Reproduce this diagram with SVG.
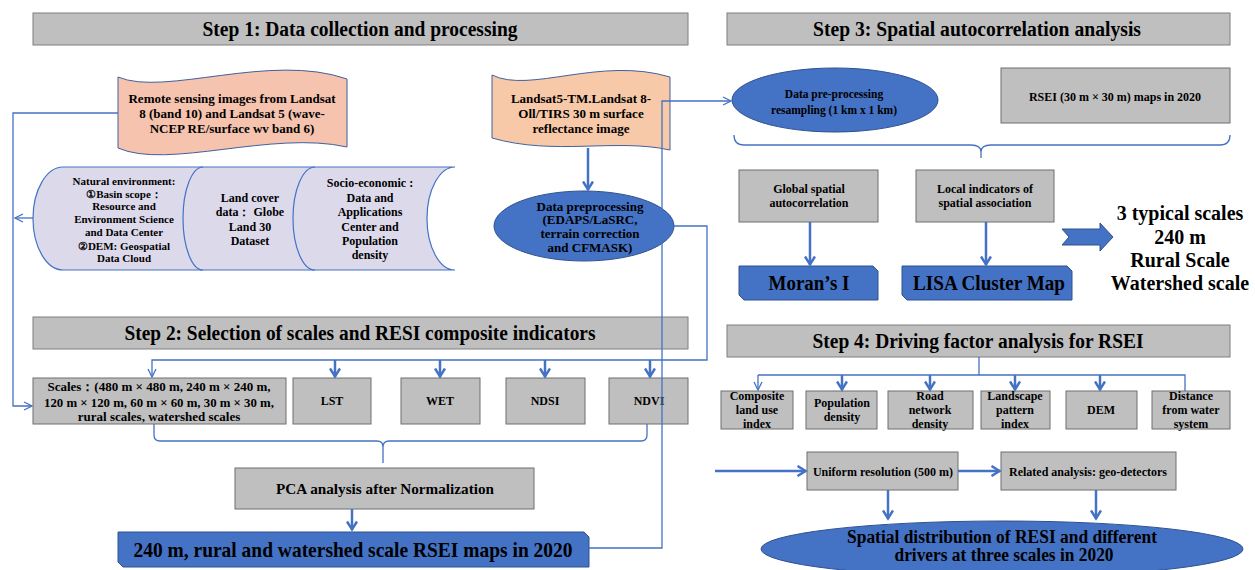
<svg xmlns="http://www.w3.org/2000/svg" width="1255" height="570" viewBox="0 0 1255 570">
<style>
.hdr{fill:#BFBFBF;stroke:#7F7F7F;stroke-width:1}
.box{fill:#BFBFBF;stroke:#6F6F6F;stroke-width:1}
.blue{fill:#4472C4;stroke:#2F528F;stroke-width:1}
.t{font-family:"Liberation Serif","Times New Roman",serif;font-weight:bold;fill:#000;text-anchor:middle}
.h{font-size:20px}
.s11{font-size:11px}
.s12{font-size:12px}
.s13{font-size:13px}
.c{fill:none;stroke:#4472C4;stroke-width:1.3}
.k{fill:none;stroke:#4472C4;stroke-width:2.5}
</style>
<defs>
<marker id="ah" viewBox="0 0 10 10" refX="9" refY="5" markerWidth="10" markerHeight="10" orient="auto" markerUnits="userSpaceOnUse"><path d="M1,1 L9,5 L1,9" fill="none" stroke="#4472C4" stroke-width="1.3"/></marker>
<marker id="ahb" viewBox="0 0 12 12" refX="10.5" refY="6" markerWidth="12" markerHeight="12" orient="auto" markerUnits="userSpaceOnUse"><path d="M2,1 L10,6 L2,11" fill="none" stroke="#4472C4" stroke-width="2.5"/></marker>
</defs>

<g id="step1-header"><rect class="hdr" x="33" y="13" width="655" height="32"/><text class="t h" x="360" y="36" textLength="315" lengthAdjust="spacingAndGlyphs">Step 1: Data collection and processing</text></g>
<g id="step3-header"><rect class="hdr" x="727" y="13" width="503" height="32"/><text class="t h" x="977" y="36" textLength="328" lengthAdjust="spacingAndGlyphs">Step 3: Spatial autocorrelation analysis</text></g>
<g id="step2-header"><rect class="hdr" x="33" y="317" width="655" height="32"/><text class="t h" x="360" y="340" textLength="471" lengthAdjust="spacingAndGlyphs">Step 2: Selection of scales and RESI composite indicators</text></g>
<g id="step4-header"><rect class="hdr" x="727" y="325" width="503" height="32"/><text class="t h" x="978" y="348" textLength="331" lengthAdjust="spacingAndGlyphs">Step 4: Driving factor analysis for RSEI</text></g>

<g id="remote-sensing">
<path d="M118,77 C165,97 270,52 347,79 L347,147 C272,130 168,170 118,148 Z" fill="#F5C3AE" stroke="#41609E" stroke-width="1"/>
<text class="t s13" x="232" y="102.5">Remote sensing images from Landsat</text>
<text class="t s13" x="232" y="117.5">8 (band 10) and Landsat 5 (wave-</text>
<text class="t s13" x="232" y="132.5">NCEP RE/surface wv band 6)</text>
</g>

<g id="landsat5">
<path d="M492,75 C530,94 600,56 670,77 L670,150 C615,138 555,156 492,138 Z" fill="#F8C9A8" stroke="#41609E" stroke-width="1"/>
<text class="t s13" x="581" y="103">Landsat5-TM.Landsat 8-</text>
<text class="t s13" x="581" y="117.5">Oll/TIRS 30 m surface</text>
<text class="t s13" x="581" y="132.5">reflectance image</text>
</g>

<g id="data-preprocessing">
<ellipse class="blue" cx="584" cy="226" rx="90" ry="35"/>
<text class="t s13" x="590" y="211">Data preprocessing</text>
<text class="t s13" x="590" y="224">(EDAPS/LaSRC,</text>
<text class="t s13" x="590" y="238">terrain correction</text>
<text class="t s13" x="590" y="252">and CFMASK)</text>
</g>

<g id="data-sources">
<path d="M63,167 L455,167 A28,51.5 0 0 0 455,270 L63,270 A30,51.5 0 0 1 63,167 Z" fill="#DCD9EB" stroke="#4472C4" stroke-width="1.2"/>
<path d="M203,167 A20,51.5 0 0 0 203,270 M315,167 A22,51.5 0 0 0 315,270" fill="none" stroke="#4472C4" stroke-width="1.2"/>
<text class="t s11" x="124" y="185">Natural environment:</text>
<text class="t s11" x="124" y="198">①Basin scope：</text>
<text class="t s11" x="124" y="210">Resource and</text>
<text class="t s11" x="124" y="223">Environment Science</text>
<text class="t s11" x="124" y="236">and Data Center</text>
<text class="t s11" x="124" y="250">②DEM: Geospatial</text>
<text class="t s11" x="124" y="262">Data Cloud</text>
<text class="t s12" x="250" y="202">Land cover</text>
<text class="t s12" x="250" y="216">data： Globe</text>
<text class="t s12" x="250" y="231">Land 30</text>
<text class="t s12" x="250" y="245">Dataset</text>
<text class="t s12" x="370" y="187">Socio-economic :</text>
<text class="t s12" x="370" y="202">Data and</text>
<text class="t s12" x="370" y="216">Applications</text>
<text class="t s12" x="370" y="231">Center and</text>
<text class="t s12" x="370" y="245">Population</text>
<text class="t s12" x="370" y="259">density</text>
</g>

<g id="resample">
<ellipse class="blue" cx="835" cy="100" rx="103" ry="32"/>
<text class="t" font-size="11.5" x="834" y="98">Data pre-processing</text>
<text class="t" font-size="11.5" x="834" y="114">resampling (1 km x 1 km)</text>
</g>
<g id="rsei30"><rect class="box" x="1001" y="68" width="229" height="55"/><text class="t s12" x="1115" y="101">RSEI (30 m × 30 m) maps in 2020</text></g>

<g id="global"><rect class="box" x="739" y="170" width="139" height="52"/><text class="t s12" x="809" y="193">Global spatial</text><text class="t s12" x="809" y="207">autocorrelation</text></g>
<g id="local"><rect class="box" x="916" y="170" width="138" height="52"/><text class="t s12" x="985" y="193">Local indicators of</text><text class="t s12" x="985" y="207">spatial association</text></g>
<g id="moran"><path class="blue" d="M739,266 L873,266 L878,271 L878,300 L744,300 L739,295 Z"/><text class="t h" x="809" y="290" textLength="81" lengthAdjust="spacingAndGlyphs">Moran’s I</text></g>
<g id="lisa"><path class="blue" d="M902,266 L1067,266 L1072,271 L1072,300 L907,300 L902,295 Z"/><text class="t h" x="989" y="290" textLength="152" lengthAdjust="spacingAndGlyphs">LISA Cluster Map</text></g>
<g id="big-arrow"><path class="blue" d="M1062,229 L1100,229 L1100,223 L1113,237 L1100,251 L1100,245 L1062,245 L1069,237 Z"/></g>
<g id="typical-scales">
<text class="t h" x="1180" y="220">3 typical scales</text>
<text class="t h" x="1180" y="244">240 m</text>
<text class="t h" x="1180" y="267">Rural Scale</text>
<text class="t h" x="1180" y="290">Watershed scale</text>
</g>

<g id="scales"><rect class="box" x="33" y="378" width="253" height="46"/>
<text class="t s13" x="159" y="391">Scales：(480 m × 480 m, 240 m × 240 m,</text>
<text class="t s13" x="159" y="407" textLength="230" lengthAdjust="spacingAndGlyphs">120 m × 120 m, 60 m × 60 m, 30 m × 30 m,</text>
<text class="t s13" x="159" y="421">rural scales, watershed scales</text></g>
<g id="lst"><rect class="box" x="293" y="378" width="78" height="46"/><text class="t s12" x="332" y="405">LST</text></g>
<g id="wet"><rect class="box" x="401" y="378" width="79" height="46"/><text class="t s12" x="440" y="405">WET</text></g>
<g id="ndsi"><rect class="box" x="506" y="378" width="79" height="46"/><text class="t s12" x="545" y="405">NDSI</text></g>
<g id="ndvi"><rect class="box" x="609" y="378" width="79" height="46"/><text class="t s12" x="649" y="405">NDVI</text></g>

<g id="pca"><rect class="box" x="235" y="468" width="299" height="41"/><text class="t" x="385" y="494" font-size="15" textLength="218" lengthAdjust="spacingAndGlyphs">PCA analysis after Normalization</text></g>
<g id="rsei-maps"><path class="blue" d="M118,532 L584,532 L589,537 L589,567 L123,567 L118,562 Z"/><text class="t" x="353" y="557" font-size="22" textLength="439" lengthAdjust="spacingAndGlyphs">240 m, rural and watershed scale RSEI maps in 2020</text></g>

<g id="composite"><rect class="box" x="721" y="391" width="72" height="38"/><text class="t s12" x="757" y="400">Composite</text><text class="t s12" x="757" y="414">land use</text><text class="t s12" x="757" y="428">index</text></g>
<g id="population"><rect class="box" x="806" y="391" width="71" height="38"/><text class="t s12" x="842" y="407">Population</text><text class="t s12" x="842" y="421">density</text></g>
<g id="road"><rect class="box" x="888" y="391" width="85" height="38"/><text class="t s12" x="930" y="400">Road</text><text class="t s12" x="930" y="414">network</text><text class="t s12" x="930" y="428">density</text></g>
<g id="landscape"><rect class="box" x="981" y="391" width="69" height="38"/><text class="t s12" x="1015" y="400">Landscape</text><text class="t s12" x="1015" y="414">pattern</text><text class="t s12" x="1015" y="428">index</text></g>
<g id="dem"><rect class="box" x="1066" y="391" width="71" height="38"/><text class="t s12" x="1101" y="414">DEM</text></g>
<g id="distance"><rect class="box" x="1152" y="391" width="78" height="38"/><text class="t s12" x="1191" y="400">Distance</text><text class="t s12" x="1191" y="414">from water</text><text class="t s12" x="1191" y="428">system</text></g>

<g id="uniform"><rect class="box" x="807" y="452" width="151" height="38"/><text class="t s12" x="883" y="476">Uniform resolution (500 m)</text></g>
<g id="related"><rect class="box" x="1001" y="452" width="175" height="38"/><text class="t s12" x="1088" y="476">Related analysis: geo-detectors</text></g>
<g id="spatial-distribution"><ellipse class="blue" cx="1002" cy="549" rx="241" ry="28"/>
<text class="t" x="1002" y="543" font-size="18" textLength="310" lengthAdjust="spacingAndGlyphs">Spatial distribution of RESI and different</text>
<text class="t" x="1004" y="561" font-size="18" textLength="219" lengthAdjust="spacingAndGlyphs">drivers at three scales in 2020</text></g>

<g id="connectors">
<path class="c" d="M118,113 L13,113 L13,406 L32,406" marker-end="url(#ah)"/>
<path class="c" d="M33,218 L15,218" marker-end="url(#ah)"/>
<path class="k" d="M588,148 L588,190" marker-end="url(#ahb)"/>
<path class="c" d="M674,226 L707,226 L707,360 L152,360 L152,377" marker-end="url(#ah)"/>
<path class="k" d="M335,360 L335,377" marker-end="url(#ahb)"/>
<path class="k" d="M440,360 L440,377" marker-end="url(#ahb)"/>
<path class="k" d="M545,360 L545,377" marker-end="url(#ahb)"/>
<path class="k" d="M650,360 L650,377" marker-end="url(#ahb)"/>
<path class="c" d="M154,424 L154,435 Q154,441 160,441 L377,441 Q383,441 383,447 L383,463 M383,447 Q383,441 389,441 L641,441 Q647,441 647,435 L647,424"/>
<path class="k" d="M352,509 L352,530" marker-end="url(#ahb)"/>
<path class="c" d="M589,548 L662,548 L662,101 L731,101" marker-end="url(#ah)"/>
<path class="c" d="M734,135 Q734,145 744,145 L971,145 Q981,145 981,152 L981,158 M981,152 Q981,145 991,145 L1220,145 Q1230,145 1230,135"/>
<path class="k" d="M810,222 L810,265" marker-end="url(#ahb)"/>
<path class="k" d="M986,222 L986,265" marker-end="url(#ahb)"/>
<path class="c" d="M979,357 L979,375 M758,375 L1185,375 L1185,391"/>
<path class="c" d="M758,375 L758,390" marker-end="url(#ah)"/>
<path class="k" d="M842,375 L842,390" marker-end="url(#ahb)"/>
<path class="k" d="M930,375 L930,390" marker-end="url(#ahb)"/>
<path class="k" d="M1015,375 L1015,390" marker-end="url(#ahb)"/>
<path class="k" d="M1100,375 L1100,390" marker-end="url(#ahb)"/>
<path class="k" d="M715,471 L806,471" marker-end="url(#ahb)"/>
<path class="k" d="M958,471 L1000,471" marker-end="url(#ahb)"/>
<path class="k" d="M888,490 L888,519" marker-end="url(#ahb)"/>
<path class="k" d="M1096,490 L1096,519" marker-end="url(#ahb)"/>
</g>
</svg>
